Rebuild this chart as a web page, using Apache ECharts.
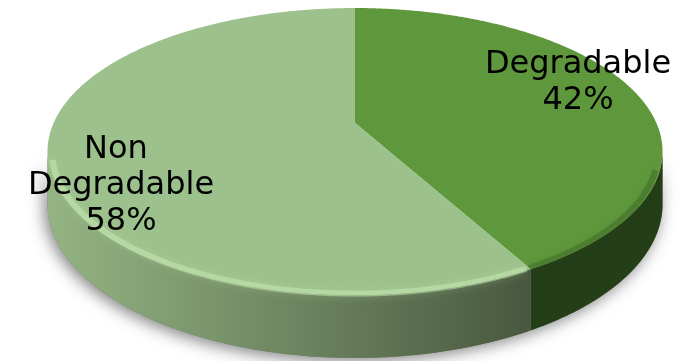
<!DOCTYPE html>
<html><head><meta charset="utf-8">
<script src="https://cdn.jsdelivr.net/npm/echarts@6/dist/echarts.min.js"></script>
<style>html,body{margin:0;padding:0;background:#fff}#c{width:697px;height:361px}</style>
</head><body><div id="c"></div>
<script>
// ---- data ----
const categories = ['Degradable', 'Non Degradable'];
const values = [42, 58];

// ---- style / layout ----
const topColors = ['#5f983c', '#9dc18c'];
const sideStops = [
  [{offset: 0, color: '#2f4e1f'}, {offset: 1, color: '#243e18'}],
  [{offset: 0, color: '#94b483'}, {offset: 1, color: '#48583f'}]
];
const rimColors = ['rgba(40,75,25,0.3)', 'rgba(200,235,182,0.5)'];
const labelPos = [[578, 83], [121, 186]];
const G = {cx: 355, cy: 123, a: 301.4, b: 137.8, k: -0.1986, d: 50.5};
const thA = Math.acos(G.k), thB = 2 * Math.PI - Math.acos(G.k); // visible side range

function proj(th, r, z) {
  const X = r * Math.sin(th), Y = -r * Math.cos(th);
  const w = 1 + G.k * Y;
  return [G.cx + G.a * X / w, G.cy + (G.b * Y + G.d * z) / w];
}
function arc(t0, t1, r, z) {
  const pts = [];
  const n = Math.max(2, Math.ceil(Math.abs(t1 - t0) / (Math.PI / 360)));
  for (let i = 0; i <= n; i++) pts.push(proj(t0 + (t1 - t0) * i / n, r, z));
  return pts;
}
function band(t0, t1) {
  return arc(t0, t1, 1, 0).concat(arc(t1, t0, 1, 1));
}

const total = values.reduce((s, v) => s + v, 0);
const starts = [];
values.reduce((acc, v, i) => { starts[i] = acc; return acc + v; }, 0);

const chart = echarts.init(document.getElementById('c'), null, {renderer: 'canvas'});
chart.setOption({
  animation: false,
  series: [{
    type: 'custom',
    coordinateSystem: 'none',
    data: values.map((v, i) => ({name: categories[i], value: v})),
    renderItem: function (params, api) {
      const i = params.dataIndex;
      const v = api.value(0);
      const t0 = starts[i] / total * 2 * Math.PI;
      const t1 = (starts[i] + v) / total * 2 * Math.PI;
      const children = [];
      if (i === 0) {
        children.push({
          type: 'polygon', z2: 0, silent: true,
          shape: {points: band(thA, thB)},
          style: {fill: '#777', shadowBlur: 16, shadowOffsetX: -3, shadowOffsetY: 3, shadowColor: 'rgba(0,0,0,0.5)'}
        });
      }
      const s0 = Math.max(t0, thA), s1 = Math.min(t1, thB);
      if (s1 > s0) {
        children.push({
          type: 'polygon', z2: 2,
          shape: {points: band(s0, s1)},
          style: {fill: new echarts.graphic.LinearGradient(proj(thB, 1, 0)[0], 0, proj(2.64, 1, 0)[0], 0, sideStops[i], true)}
        });
        const h0 = s0 + (s0 === thA ? 0.12 : 0.004);
        const h1 = s1 - (s1 === thB ? 0.05 : 0.004);
        children.push({
          type: 'polyline', z2: 6, silent: true,
          shape: {points: arc(h0, h1, 0.985, 0.03)},
          style: {fill: null, stroke: rimColors[i], lineWidth: 6, shadowBlur: 8, shadowColor: rimColors[i]}
        });
      }
      children.push({
        type: 'polygon', z2: 5,
        shape: {points: [proj(0, 0, 0)].concat(arc(t0, t1, 1, 0))},
        style: {fill: topColors[i]}
      });
      const pct = Math.round(v / total * 100);
      children.push({
        type: 'text', z2: 20, silent: true,
        x: labelPos[i][0], y: labelPos[i][1],
        style: {
          text: categories[i] + '\n' + pct + '%',
          fill: '#000', fontSize: 32, fontFamily: '"DejaVu Sans"',
          align: 'center', verticalAlign: 'middle', lineHeight: 36,
          width: 210, overflow: 'break'
        }
      });
      return {type: 'group', children: children};
    }
  }]
});
</script>
</body></html>
